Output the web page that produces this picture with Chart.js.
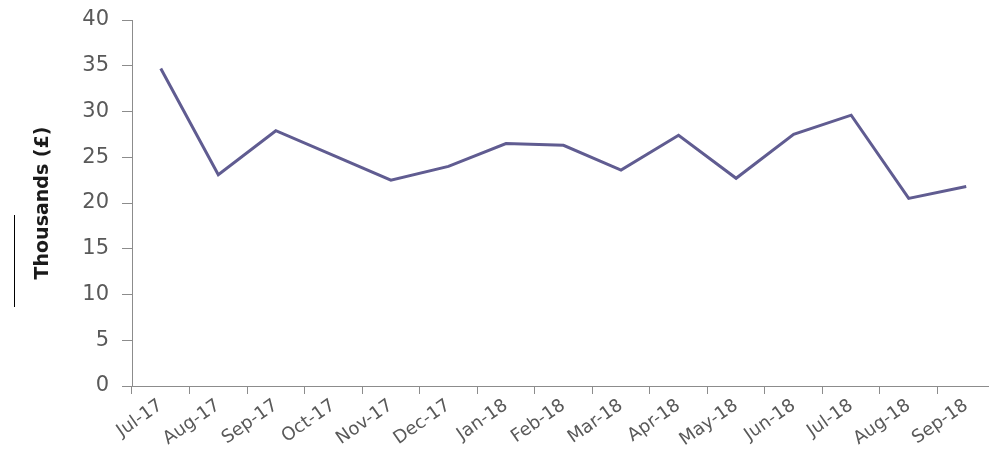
<!DOCTYPE html>
<html>
<head>
<meta charset="utf-8">
<script src="https://cdn.jsdelivr.net/npm/chart.js@4.4.0/dist/chart.umd.min.js"></script>
<style>
    html, body { margin: 0; padding: 0; background: #fff; overflow: hidden; }
    .wrap { position: relative; width: 1000px; height: 465px; }
    .mark { position: absolute; left: 14px; top: 215px; width: 1px; height: 92px; background: #000; }
</style>
</head>
<body>
<div class="wrap">
    <canvas id="sales-chart" width="1000" height="465"></canvas>
    <div class="mark"></div>
</div>
<script>
// Monthly values, thousands of pounds

let months = ['Jul-17', 'Aug-17', 'Sep-17', 'Oct-17', 'Nov-17', 'Dec-17', 'Jan-18', 'Feb-18',
    'Mar-18', 'Apr-18', 'May-18', 'Jun-18', 'Jul-18', 'Aug-18', 'Sep-18'];
let salesValues = [34.7, 23.1, 27.9, 25.2, 22.5, 24.0, 26.5, 26.3, 23.6, 27.4, 22.7, 27.5, 29.6, 20.5, 21.8];
let yTicks = [0, 5, 10, 15, 20, 25, 30, 35, 40];

let lineColor = 'rgb(96, 92, 145)';
let axisColor = '#8c8c8c';
let textColor = '#595959';
let fontName = 'DejaVu Sans';

let ctx = document.getElementById('sales-chart').getContext('2d');

let salesChart = new Chart(ctx, {
    type: 'line',
    data: {
        labels: months,
        datasets: [{
            data: salesValues,
            fill: false,
            borderColor: lineColor,
            borderWidth: 3,
            pointRadius: 0,
            tension: 0
        }]
    },
    options: {
        responsive: false,
        animation: false,
        layout: {
            padding: { top: 0, right: 5, bottom: 0, left: 0 }
        },
        scales: {
            x: {
                offset: true,
                afterFit: function (scale) { scale.height = 79; },
                grid: {
                    offset: true,
                    drawOnChartArea: false,
                    color: axisColor,
                    tickLength: 8
                },
                border: { color: axisColor, width: 1 },
                ticks: {
                    color: textColor,
                    font: { family: fontName, size: 18 },
                    minRotation: 35,
                    maxRotation: 35,
                    autoSkip: false,
                    padding: 1
                }
            },
            y: {
                min: 0,
                max: 40,
                afterFit: function (scale) {
                    scale.width = 132;
                    scale.paddingTop = 20;
                },
                afterBuildTicks: function (scale) {
                    scale.ticks = yTicks.map(v => ({ value: v }));
                },
                grid: {
                    drawOnChartArea: false,
                    color: axisColor,
                    tickLength: 10
                },
                border: { color: axisColor, width: 1 },
                ticks: {
                    color: textColor,
                    font: { family: fontName, size: 21 },
                    padding: 13
                },
                title: {
                    display: true,
                    text: 'Thousands (£)',
                    color: '#1a1a1a',
                    font: { family: fontName, size: 19, weight: 'bold' },
                    padding: { top: 32, bottom: 10 }
                }
            }
        },
        plugins: {
            legend: { display: false },
            tooltip: { enabled: false }
        }
    }
});
</script>
</body>
</html>
